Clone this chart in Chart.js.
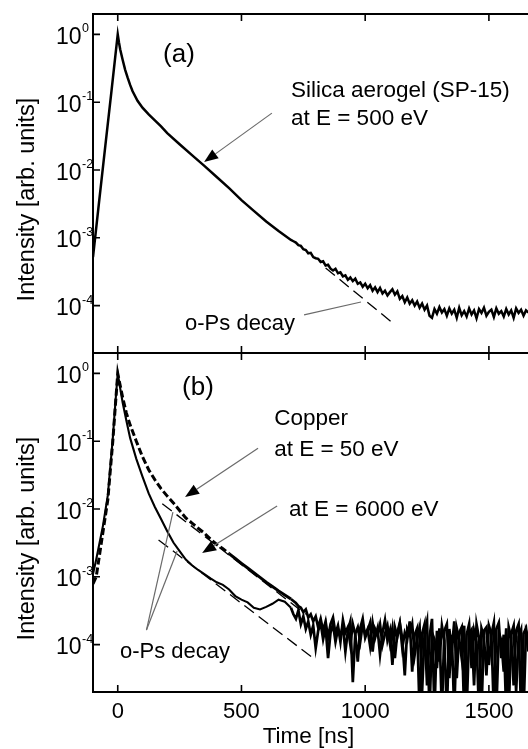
<!DOCTYPE html>
<html>
<head>
<meta charset="utf-8">
<title>Positron lifetime spectra</title>
<script src="https://cdn.jsdelivr.net/npm/chart.js@4.4.1/dist/chart.umd.min.js"></script>
<style>
  html, body { margin: 0; padding: 0; background: #fff; }
  #wrap { position: relative; width: 528px; height: 749px; overflow: hidden; }
  #wrap canvas { position: absolute; left: 0; top: 0; }
</style>
</head>
<body>
<div id="wrap">
  <canvas id="chartB" width="528" height="749"></canvas>
  <canvas id="chartA" width="528" height="749"></canvas>
</div>
<script>
const FONT = '"Liberation Sans", Arial, Helvetica, sans-serif';

// axis ticks
const xTicks = [0, 500, 1000, 1500];
const yTicks = [1, 1e-1, 1e-2, 1e-3, 1e-4];
const yExps = ['0', '-1', '-2', '-3', '-4'];

// panel (a) : silica aerogel SP-15 at E = 500 eV
const timeA = [
  -100, -75, -50, -25, -10, 0, 5, 10, 20, 30,
  40, 50, 60, 80, 100, 125, 150, 175, 200, 250,
  300, 350, 400, 450, 500, 550, 600, 650, 700,
  710, 720, 730, 740, 750, 760, 770, 780, 790, 800,
  810, 820, 830, 840, 850, 860, 870, 880, 890, 900,
  910, 920, 930, 940, 950, 960, 970, 980, 990, 1000,
  1010, 1020, 1030, 1040, 1050, 1060, 1070, 1080, 1090, 1100,
  1110, 1120, 1130, 1140, 1150, 1160, 1170, 1180, 1190, 1200,
  1210, 1220, 1230, 1240, 1250, 1260, 1270, 1280, 1290, 1300,
  1310, 1320, 1330, 1340, 1350, 1360, 1370, 1380, 1390, 1400,
  1410, 1420, 1430, 1440, 1450, 1460, 1470, 1480, 1490, 1500,
  1510, 1520, 1530, 1540, 1550, 1560, 1570, 1580, 1590, 1600,
  1610, 1620, 1630, 1640, 1650, 1660
];
const aerogel = [
  5.2e-4, 3.5e-3, 0.023, 0.15, 0.47, 1.0, 0.76, 0.60, 0.42, 0.30,
  0.23, 0.18, 0.145, 0.105, 0.083, 0.066, 0.054, 0.044, 0.035, 0.024,
  0.0166, 0.0115, 0.0079, 0.0054, 0.0036, 0.0025, 0.00174, 0.00126, 9.3e-4,
  8.9e-4, 8.5e-4, 7.8e-4, 7.6e-4, 6.8e-4, 6.6e-4, 5.9e-4, 6.0e-4, 5.2e-4, 5.0e-4,
  4.9e-4, 4.4e-4, 4.5e-4, 3.9e-4, 4.0e-4, 3.5e-4, 3.3e-4, 3.5e-4, 3.0e-4, 3.1e-4,
  2.7e-4, 2.8e-4, 2.4e-4, 2.6e-4, 2.3e-4, 2.5e-4, 2.1e-4, 2.2e-4, 1.9e-4, 2.1e-4,
  1.8e-4, 2.0e-4, 1.66e-4, 1.86e-4, 1.58e-4, 1.82e-4, 1.51e-4, 1.66e-4, 1.41e-4, 1.58e-4,
  1.74e-4, 1.45e-4, 1.62e-4, 1.26e-4, 1.38e-4, 1.12e-4, 1.32e-4, 1.07e-4, 1.20e-4, 1.00e-4,
  1.15e-4, 9.3e-5, 1.07e-4, 8.7e-5, 1.0e-4, 7.1e-5, 6.6e-5, 8.9e-5, 7.6e-5, 9.5e-5,
  7.9e-5, 8.9e-5, 7.1e-5, 9.1e-5, 7.6e-5, 8.7e-5, 6.6e-5, 9.3e-5, 7.2e-5, 8.3e-5,
  6.9e-5, 9.1e-5, 7.4e-5, 8.5e-5, 6.5e-5, 8.9e-5, 7.8e-5, 9.3e-5, 7.1e-5, 8.1e-5,
  8.7e-5, 6.8e-5, 9.1e-5, 7.6e-5, 8.3e-5, 6.9e-5, 8.9e-5, 7.4e-5, 8.5e-5, 6.6e-5,
  9.1e-5, 7.8e-5, 8.7e-5, 7.1e-5, 8.5e-5, 7.9e-5
];
const opsTimeA = [840, 1110];
const opsA = [3.6e-4, 5.6e-5];

// panel (b) : copper at E = 50 eV and E = 6000 eV
const timeB = [
  -100, -87, -60, -40, -20, -10, 0, 10, 20, 35,
  50, 75, 100, 125, 150, 175, 200, 225, 250, 275,
  300, 325, 350, 375, 400, 425, 450, 475, 500, 525,
  550, 575, 600, 625, 650, 675, 700,
  710, 720, 730, 740, 750, 760, 770, 780, 790, 800,
  810, 820, 830, 840, 850, 860, 870, 880, 890, 900,
  910, 920, 930, 940, 950, 960, 970, 980, 990, 1000,
  1010, 1020, 1030, 1040, 1050, 1060, 1070, 1080, 1090, 1100,
  1110, 1120, 1130, 1140, 1150, 1160, 1170, 1180, 1190, 1200,
  1210, 1220, 1230, 1240, 1250, 1260, 1270, 1280, 1290, 1300,
  1310, 1320, 1330, 1340, 1350, 1360, 1370, 1380, 1390, 1400,
  1410, 1420, 1430, 1440, 1450, 1460, 1470, 1480, 1490, 1500,
  1510, 1520, 1530, 1540, 1550, 1560, 1570, 1580, 1590, 1600,
  1610, 1620, 1630, 1640, 1650, 1660
];
const copper50 = [
  7.9e-4, 1.0e-3, 4.5e-3, 0.0138, 0.10, 0.32, 1.0, 0.66, 0.44, 0.26,
  0.174, 0.100, 0.059, 0.038, 0.027, 0.020, 0.0155, 0.0123, 0.0095, 0.0074,
  0.0062, 0.0052, 0.0044, 0.0036, 0.0030, 0.0026, 0.0022, 0.00186, 0.00158, 0.00135,
  0.00115, 9.8e-4, 8.3e-4, 7.2e-4, 6.2e-4, 5.4e-4, 4.7e-4,
  4.4e-4, 4.1e-4, 3.7e-4, 3.5e-4, 3.0e-4, 3.3e-4, 2.5e-4, 2.8e-4, 2.2e-4, 2.6e-4,
  1.8e-4, 2.4e-4, 1.6e-4, 2.2e-4, 1.26e-4, 2.0e-4, 2.5e-4, 1.45e-4, 1.9e-4, 1.1e-4,
  2.3e-4, 1.5e-4, 1.8e-4, 1.0e-4, 2.0e-4, 1.4e-4, 5.6e-5, 1.74e-4, 2.4e-4, 1.26e-4,
  1.6e-4, 2.1e-4, 7.9e-5, 1.7e-4, 1.4e-4, 2.0e-4, 1.0e-4, 1.45e-4, 1.9e-4, 1.05e-4,
  1.74e-4, 6.3e-5, 1.5e-4, 2.1e-4, 1.2e-4, 3.5e-5, 1.7e-4, 1.4e-4, 2.0e-4, 7.1e-5,
  1.26e-4, 1.8e-4, 2.0e-5, 1.45e-4, 2.2e-4, 1e-5, 1.5e-4, 1.2e-4, 4.5e-5, 1.74e-4,
  1e-5, 1.6e-4, 2.0e-4, 3.2e-5, 1.4e-4, 1e-5, 1.74e-4, 1.2e-4, 6.3e-5, 1.9e-4,
  1e-5, 1.45e-4, 1.66e-4, 2.5e-5, 2.0e-4, 1.26e-4, 1e-5, 1.6e-4, 1.8e-4, 5.0e-5,
  1.4e-4, 2.1e-4, 1e-5, 1.5e-4, 1.15e-4, 4.0e-5, 1.74e-4, 1e-5, 1.45e-4, 1.9e-4,
  2.0e-5, 1.3e-4, 1.66e-4, 1e-5, 1.6e-4, 1.26e-4
];
const copper6000 = [
  1.1e-3, 1.8e-3, 5.6e-3, 0.016, 0.11, 0.35, 1.0, 0.60, 0.37, 0.20,
  0.112, 0.055, 0.030, 0.017, 0.0107, 0.0071, 0.0047, 0.0032, 0.0024, 0.0018,
  0.00148, 0.00126, 0.00110, 9.5e-4, 8.3e-4, 7.6e-4, 6.5e-4, 5.2e-4, 4.6e-4, 4.2e-4,
  3.5e-4, 3.3e-4, 3.6e-4, 4.0e-4, 4.6e-4, 4.3e-4, 3.5e-4,
  2.8e-4, 2.4e-4, 3.2e-4, 2.0e-4, 2.6e-4, 1.7e-4, 2.2e-4, 1.4e-4, 1.9e-4, 8.9e-5,
  1.6e-4, 2.1e-4, 1.2e-4, 1.8e-4, 6.3e-5, 1.5e-4, 2.0e-4, 1.1e-4, 1.7e-4, 1.3e-4,
  1.9e-4, 7.9e-5, 1.6e-4, 2.2e-4, 2.8e-5, 1.45e-4, 1.8e-4, 1.1e-4, 2.0e-4, 1.4e-4,
  1.7e-4, 9.5e-5, 2.1e-4, 1.26e-4, 1.74e-4, 7.1e-5, 1.5e-4, 2.3e-4, 1.15e-4, 1.6e-4,
  5.0e-5, 1.8e-4, 1.3e-4, 2.0e-4, 8.9e-5, 1.5e-4, 1.2e-4, 2.2e-4, 4.0e-5, 1.4e-4,
  1.74e-4, 1e-5, 1.45e-4, 2.0e-4, 2.5e-5, 1.3e-4, 2.4e-4, 1e-5, 1.6e-4, 5.6e-5,
  1.9e-4, 1.15e-4, 1e-5, 1.7e-4, 8.3e-5, 2.2e-4, 3.2e-5, 1.5e-4, 1.8e-4, 1e-5,
  1.4e-4, 2.0e-4, 4.5e-5, 1.6e-4, 1.1e-4, 1e-5, 1.74e-4, 1.3e-4, 3.5e-5, 1.9e-4,
  1.45e-4, 1e-5, 1.7e-4, 2.1e-4, 6.3e-5, 1.4e-4, 1e-5, 1.8e-4, 1.26e-4, 2.5e-5,
  1.6e-4, 2.0e-4, 1e-5, 1.45e-4, 1.74e-4, 7.9e-5
];
const opsTimeB1 = [180, 760];
const opsB1 = [1.2e-2, 2.8e-4];
const opsTimeB2 = [165, 790];
const opsB2 = [3.5e-3, 6.3e-5];

// labels and arrows, anchored in data units (time ns, intensity)
const notesA = [
  { text: '(a)', t: 183, v: 0.39, size: 26 },
  { text: 'Silica aerogel (SP-15)', t: 700, v: 0.119, size: 22.5 },
  { text: 'at E = 500 eV', t: 700, v: 0.046, size: 22.5 },
  { text: 'o-Ps decay', t: 272, v: 4.4e-5, size: 22 }
];
const arrowsA = [
  { from: [623, 0.069], to: [349, 0.0131], head: true },
  { from: [753, 7.3e-5], to: [983, 1.13e-4], head: false }
];
const notesB = [
  { text: '(b)', t: 260, v: 0.48, size: 26 },
  { text: 'Copper', t: 632, v: 0.173, size: 22.5 },
  { text: 'at E = 50 eV', t: 632, v: 0.0605, size: 22.5 },
  { text: 'at E = 6000 eV', t: 692, v: 7.9e-3, size: 22.5 },
  { text: 'o-Ps decay', t: 9, v: 6.4e-5, size: 22 }
];
const arrowsB = [
  { from: [567, 0.079], to: [272, 0.0150], head: true },
  { from: [644, 0.0111], to: [341, 2.24e-3], head: true },
  { from: [116, 1.64e-4], to: [223, 9.0e-3], head: false },
  { from: [116, 1.64e-4], to: [240, 2.4e-3], head: false }
];

const pts = (xs, ys) => xs.map((x, i) => ({ x: x, y: ys[i] }));

// frame, inward ticks, tick labels, titles and notes
const frame = {
  id: 'frame',
  afterDraw(chart, args, opts) {
    const ctx = chart.ctx;
    const a = chart.chartArea;
    const sx = chart.scales.x, sy = chart.scales.y;
    const P = (t, v) => [sx.getPixelForValue(t), sy.getPixelForValue(v)];
    ctx.save();
    ctx.strokeStyle = '#000';
    ctx.fillStyle = '#000';
    ctx.lineWidth = 2;
    ctx.beginPath();
    ctx.moveTo(a.right + 5, a.top);
    ctx.lineTo(a.left, a.top);
    ctx.lineTo(a.left, a.bottom);
    ctx.lineTo(a.right + 5, a.bottom);
    ctx.stroke();

    ctx.lineWidth = 1.6;
    ctx.beginPath();
    xTicks.forEach(t => {
      const x = sx.getPixelForValue(t);
      ctx.moveTo(x, a.top); ctx.lineTo(x, a.top + 7);
      ctx.moveTo(x, a.bottom); ctx.lineTo(x, a.bottom - 7);
    });
    yTicks.forEach(v => {
      const y = sy.getPixelForValue(v);
      ctx.moveTo(a.left, y); ctx.lineTo(a.left + 7, y);
    });
    ctx.stroke();

    ctx.textBaseline = 'alphabetic';
    yTicks.forEach((v, i) => {
      const y = sy.getPixelForValue(v);
      ctx.font = '23px ' + FONT;
      ctx.textAlign = 'right';
      ctx.fillText('10', a.left - 11.5, y + 9.5);
      ctx.font = '12.5px ' + FONT;
      ctx.textAlign = 'left';
      ctx.fillText(yExps[i], a.left - 11, y - 2);
    });

    ctx.save();
    ctx.translate(33.5, (a.top + a.bottom) / 2 + 16);
    ctx.rotate(-Math.PI / 2);
    ctx.textAlign = 'center';
    ctx.font = '23.5px ' + FONT;
    ctx.fillText('Intensity [arb. units]', 0, 0);
    ctx.restore();

    if (opts.xLabels) {
      ctx.font = '22px ' + FONT;
      ctx.textAlign = 'center';
      xTicks.forEach(t => ctx.fillText(String(t), sx.getPixelForValue(t), a.bottom + 26));
      ctx.font = '22.5px ' + FONT;
      ctx.fillText('Time [ns]', (a.left + a.right) / 2 - 2, a.bottom + 51);
    }

    ctx.textAlign = 'left';
    opts.notes.forEach(n => {
      const [x, y] = P(n.t, n.v);
      ctx.font = n.size + 'px ' + FONT;
      ctx.fillText(n.text, x, y);
    });

    opts.arrows.forEach(ar => {
      const [x1, y1] = P(ar.from[0], ar.from[1]);
      const [x2, y2] = P(ar.to[0], ar.to[1]);
      const ang = Math.atan2(y2 - y1, x2 - x1);
      const L = ar.head ? 14 : 0, W = 5.5;
      const bx = x2 - L * Math.cos(ang), by = y2 - L * Math.sin(ang);
      ctx.strokeStyle = '#6a6a6a';
      ctx.lineWidth = 1.2;
      ctx.beginPath();
      ctx.moveTo(x1, y1);
      ctx.lineTo(bx, by);
      ctx.stroke();
      if (ar.head) {
        ctx.beginPath();
        ctx.moveTo(x2, y2);
        ctx.lineTo(bx + W * Math.sin(ang), by - W * Math.cos(ang));
        ctx.lineTo(bx - W * Math.sin(ang), by + W * Math.cos(ang));
        ctx.closePath();
        ctx.fill();
      }
    });
    ctx.restore();
  }
};

function panelOptions(padding, notes, arrows, xLabels) {
  return {
    responsive: false,
    maintainAspectRatio: false,
    animation: false,
    layout: { padding: padding },
    elements: { point: { radius: 0 }, line: { tension: 0, borderJoinStyle: 'miter' } },
    scales: {
      x: { type: 'linear', min: -100, max: 1658, display: false },
      y: { type: 'logarithmic', min: 2e-5, max: 2, display: false }
    },
    plugins: {
      legend: { display: false },
      tooltip: { enabled: false },
      frame: { notes: notes, arrows: arrows, xLabels: xLabels }
    }
  };
}

// noisy tail is drawn a little heavier, as in the scanned figure
const tailWidth = c => (c.p0.parsed.x >= 700 ? 2.7 : undefined);

Chart.defaults.font.family = FONT;

new Chart(document.getElementById('chartA'), {
  type: 'line',
  data: {
    datasets: [
      { label: 'Silica aerogel (SP-15), E = 500 eV', data: pts(timeA, aerogel),
        borderColor: '#000', borderWidth: 2.5, clip: 0 },
      { label: 'o-Ps decay', data: pts(opsTimeA, opsA),
        borderColor: '#000', borderWidth: 1.3, borderDash: [12, 6], clip: 0 }
    ]
  },
  options: panelOptions({ left: 93, top: 14, right: 0, bottom: 396 }, notesA, arrowsA, false),
  plugins: [frame]
});

new Chart(document.getElementById('chartB'), {
  type: 'line',
  data: {
    datasets: [
      { label: 'Copper, E = 50 eV', data: pts(timeB, copper50),
        borderColor: '#000', borderWidth: 3, clip: 0,
        segment: {
          borderDash: c => (c.p1.parsed.x <= 460 ? [7, 3] : undefined),
          borderWidth: tailWidth
        } },
      { label: 'Copper, E = 6000 eV', data: pts(timeB, copper6000),
        borderColor: '#000', borderWidth: 2.1, clip: 0,
        segment: { borderWidth: tailWidth } },
      { label: 'o-Ps decay 50 eV', data: pts(opsTimeB1, opsB1),
        borderColor: '#000', borderWidth: 1.3, borderDash: [12, 6], clip: 0 },
      { label: 'o-Ps decay 6000 eV', data: pts(opsTimeB2, opsB2),
        borderColor: '#000', borderWidth: 1.3, borderDash: [12, 6], clip: 0 }
    ]
  },
  options: panelOptions({ left: 93, top: 353, right: 0, bottom: 57 }, notesB, arrowsB, true),
  plugins: [frame]
});
</script>
</body>
</html>
